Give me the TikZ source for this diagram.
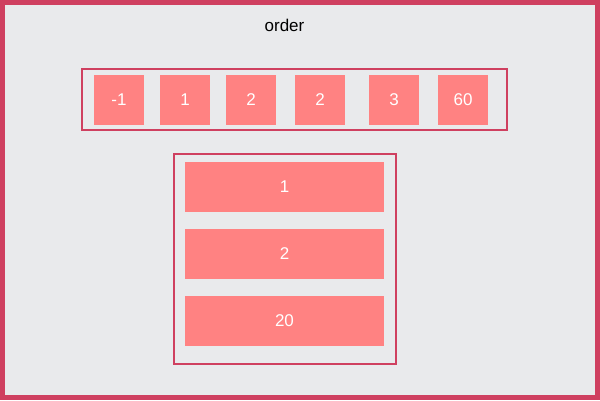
\documentclass[tikz,border=0pt]{standalone}
\usepackage{fontspec}
\setmainfont{Liberation Sans}
\definecolor{frame}{HTML}{CF4060}
\definecolor{bg}{HTML}{E9EAEC}
\definecolor{boxfill}{HTML}{FF8282}
\tikzset{
  cell/.style={fill=boxfill, draw=none, inner sep=0pt, text=white, font=\fontsize{17}{20}\selectfont},
  group/.style={draw=frame, line width=2pt},
}
\begin{document}
\begin{tikzpicture}[x=1pt,y=-1pt]
\useasboundingbox (0,0) rectangle (600,400);
\draw[fill=bg, draw=frame, line width=5pt] (2.5,2.5) rectangle (597.5,397.5);
\node[font=\fontsize{17}{20}\selectfont] (title) at (284.5,25) {order};
% top row
\draw[group] (82,69.3) rectangle (507,130.3);
\foreach \x/\t/\n in {94/-1/a,160/1/b,226/2/c,295/2/d,369/3/e,438/60/f}{
  \node[cell, minimum width=50pt, minimum height=50pt] (top\n) at (\x+25,100) {\t};
}
% column
\draw[group] (174,154.3) rectangle (396,363.7);
\foreach \y/\t/\n in {162/1/a,229/2/b,296/20/c}{
  \node[cell, minimum width=199pt, minimum height=50pt] (bar\n) at (284.5,\y+25) {\t};
}
\end{tikzpicture}
\end{document}
